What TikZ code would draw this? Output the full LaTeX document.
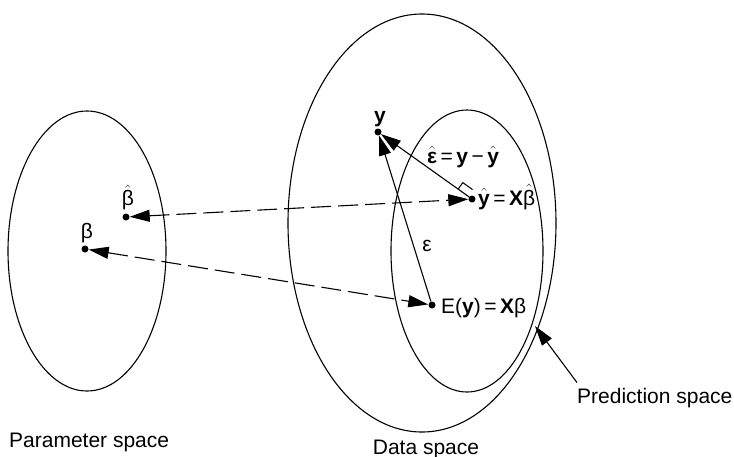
\documentclass[tikz,border=0pt]{standalone}
\usepackage{amsmath}
\usepackage{fontspec}
\setmainfont{Liberation Sans}
\usetikzlibrary{arrows.meta,calc}

\newcommand{\hatted}[1]{\ensuremath{\hat{\text{#1}}}}

\begin{document}
\begin{tikzpicture}[x=1pt,y=-1pt,
  dot/.style={circle,fill,inner sep=0pt,minimum size=7pt},
  lbl/.style={inner sep=0pt,font=\fontsize{21}{25}\selectfont},
  space/.style={line width=1.1pt},
  arr/.style={-{Triangle[length=20pt,width=12pt]},line width=1.1pt},
  darr/.style={{Triangle[length=20pt,width=12pt]}-{Triangle[length=20pt,width=12pt]},
               line width=1.1pt,dash pattern=on 20pt off 7pt}
]
\useasboundingbox (0,0) rectangle (734,456);

% Spaces
\draw[space] (87,251) ellipse [x radius=79,y radius=140];
\draw[space] (422,223) ellipse [x radius=134,y radius=209];
\draw[space] (467,251) ellipse [x radius=76,y radius=141];

% Points
\node[dot] (yv) at (378,132) {};
\node[dot] (yh) at (472,199) {};
\node[dot] (ey) at (432,305) {};
\node[dot] (bh) at (126,217) {};
\node[dot] (b) at (85,249) {};

% Point labels
\node[lbl,anchor=south] at (380,127) {\textbf{y}};
\node[lbl,anchor=base west] at (478,205) {\hatted{\textbf{y}}\,=\,\textbf{X}\hatted{β}};
\node[lbl,anchor=base west] at (441,313) {E(\textbf{y})\,=\,\textbf{X}β};
\node[lbl,anchor=south] at (128,210) {\hatted{β}};
\node[lbl,anchor=south] at (87,243) {β};

% Residual and error
\draw[arr] (yh) -- (yv);
\draw[arr] (ey) -- (yv);
\node[lbl] at (427,246) {ε};
\node[lbl,anchor=base west] at (427,163) {\hatted{\textbf{ε}}\,=\,\textbf{y}\,−\,\hatted{\textbf{y}}};

% right angle mark
\coordinate (ra) at ($(yh)!17pt!(yv)$);
\coordinate (rb) at ($(ra)!8pt!-90:(yv)$);
\coordinate (rq) at ($(yh)!5pt!(yv)$);
\coordinate (rc) at ($(rq)!8pt!-90:(yv)$);
\draw[line width=1pt] (ra) -- (rb) -- (rc);

% Mappings between spaces
\draw[darr] (bh) -- (yh);
\draw[darr] (b) -- (ey);

% Space names
\node[lbl,anchor=base west] at (9,447) {Parameter space};
\node[lbl,anchor=base] at (426,454) {Data space};
\node[lbl,anchor=base west] (ps) at (577,403) {Prediction space};
\coordinate (pstip) at (535,326);
\draw[arr] ([yshift=5pt]ps.north west) -- (pstip);

\end{tikzpicture}
\end{document}
